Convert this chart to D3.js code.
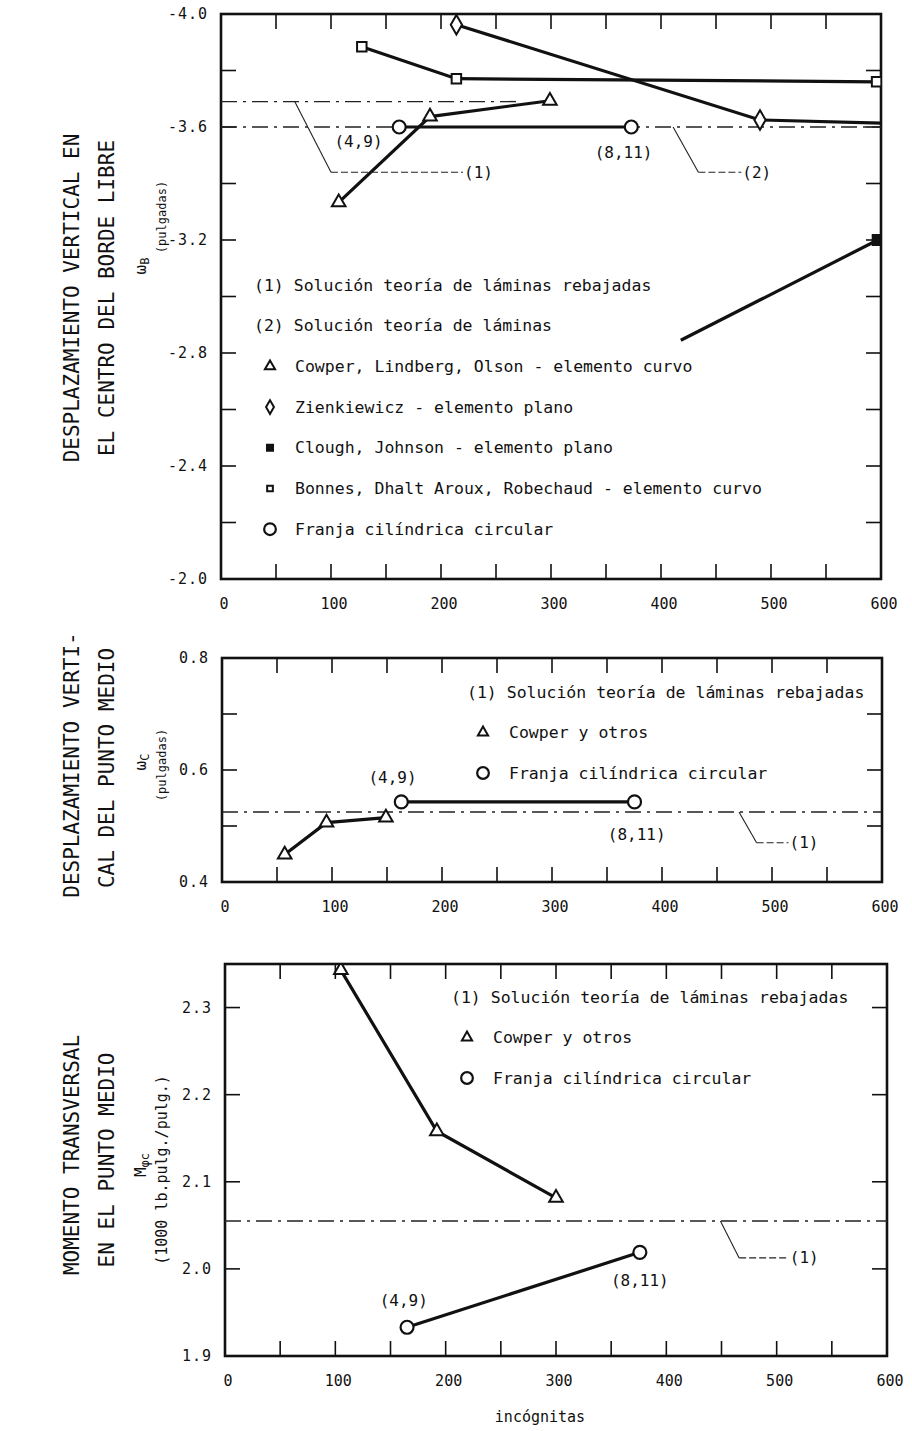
<!DOCTYPE html>
<html>
<head>
<meta charset="utf-8">
<script src="https://cdn.jsdelivr.net/npm/d3@7"></script>
<style>
  body { margin: 0; background: #fff; }
  text { font-family: "DejaVu Sans Mono", monospace; fill: #111; }
</style>
</head>
<body>
<script>
// x axis (incógnitas), shared by the three panels
const xLabels = [0, 100, 200, 300, 400, 500, 600];
const xMinor = [50, 100, 150, 200, 250, 300, 350, 400, 450, 500, 550];

// Panel 1: w_B, vertical displacement at centre of free edge
const wbLabels = [-4.0, -3.6, -3.2, -2.8, -2.4, -2.0];
const wbMinor = [-3.8, -3.6, -3.4, -3.2, -3.0, -2.8, -2.6, -2.4, -2.2];
const wbCowperX = [107, 190, 299];
const wbCowperY = [-3.333, -3.637, -3.693];
const wbZienkX = [214, 490, 620];
const wbZienkY = [-3.962, -3.625, -3.612];
const wbCloughX = [418, 597];
const wbCloughY = [-2.845, -3.20];
const wbBonnesX = [128, 214, 596];
const wbBonnesY = [-3.884, -3.771, -3.760];
const wbFranjaX = [162, 373];
const wbFranjaY = [-3.60, -3.60];
const wbRefY = [-3.69, -3.60];
const wbRefEnd = [270, 600];
const wbLegend = ["(1) Solución teoría de láminas rebajadas",
  "(2) Solución teoría de láminas",
  "Cowper, Lindberg, Olson - elemento curvo",
  "Zienkiewicz - elemento plano",
  "Clough, Johnson - elemento plano",
  "Bonnes, Dhalt Aroux, Robechaud - elemento curvo",
  "Franja cilíndrica circular"];

// Panel 2: w_C, vertical displacement at mid point
const wcLabels = [0.4, 0.6, 0.8];
const wcMinor = [0.5, 0.6, 0.7];
const wcCowperX = [57, 95, 149];
const wcCowperY = [0.449, 0.506, 0.515];
const wcFranjaX = [163, 375];
const wcFranjaY = [0.543, 0.543];
const wcRefY = 0.525;

// Panel 3: M_phi_c, transverse moment at mid point
const mLabels = [1.9, 2.0, 2.1, 2.2, 2.3];
const mCowperX = [105, 192, 300];
const mCowperY = [2.343, 2.158, 2.0815];
const mFranjaX = [165, 376];
const mFranjaY = [1.933, 2.019];
const mRefY = 2.055;

const shortLegend = ["(1) Solución teoría de láminas rebajadas",
  "Cowper y otros", "Franja cilíndrica circular"];

const svg = d3.select("body").append("svg")
  .attr("width", 912).attr("height", 1431);

const line = d3.line();

// Builds one framed panel with inside ticks on all four sides
function panel(id, box, yDomain, yLabels, yMinor) {
  const x = d3.scaleLinear().domain([0, 600]).range([box.left, box.right]);
  const y = d3.scaleLinear().domain(yDomain).range([box.bottom, box.top]);
  const g = svg.append("g");

  g.append("clipPath").attr("id", id)
    .append("rect")
    .attr("x", box.left).attr("y", box.top)
    .attr("width", box.right - box.left).attr("height", box.bottom - box.top);

  const tl = 15;
  const ticks = g.append("g").attr("stroke", "#111").attr("stroke-width", 1.6);
  xMinor.forEach(v => {
    ticks.append("line").attr("x1", x(v)).attr("x2", x(v))
      .attr("y1", box.bottom).attr("y2", box.bottom - tl);
    ticks.append("line").attr("x1", x(v)).attr("x2", x(v))
      .attr("y1", box.top).attr("y2", box.top + tl);
  });
  yMinor.forEach(v => {
    ticks.append("line").attr("x1", box.left).attr("x2", box.left + tl)
      .attr("y1", y(v)).attr("y2", y(v));
    ticks.append("line").attr("x1", box.right).attr("x2", box.right - tl)
      .attr("y1", y(v)).attr("y2", y(v));
  });

  g.append("rect")
    .attr("x", box.left).attr("y", box.top)
    .attr("width", box.right - box.left).attr("height", box.bottom - box.top)
    .attr("fill", "none").attr("stroke", "#111").attr("stroke-width", 2.6);

  g.selectAll(".xl").data(xLabels).enter().append("text")
    .attr("x", d => x(d) + 3).attr("y", box.bottom + 25)
    .attr("text-anchor", "middle").attr("dominant-baseline", "central")
    .attr("font-size", 15).text(d => d);

  g.selectAll(".yl").data(yLabels).enter().append("text")
    .attr("x", box.left - 13).attr("y", d => y(d))
    .attr("text-anchor", "end").attr("dominant-baseline", "central")
    .attr("font-size", 15).attr("letter-spacing", 1)
    .text(d => d.toFixed(1));

  const data = g.append("g").attr("clip-path", `url(#${id})`);
  return {x, y, g, data};
}

function series(p, xs, ys) {
  p.data.append("path")
    .attr("d", line(xs.map((v, i) => [p.x(v), p.y(ys[i])])))
    .attr("fill", "none").attr("stroke", "#111").attr("stroke-width", 3.2);
}

function refLine(p, yv, x0, x1) {
  p.data.append("line")
    .attr("x1", p.x(x0)).attr("x2", p.x(x1))
    .attr("y1", p.y(yv)).attr("y2", p.y(yv))
    .attr("stroke", "#222").attr("stroke-width", 1.4)
    .attr("stroke-dasharray", "16,6,3,6");
}

const sym = {
  tri: d3.symbol(d3.symbolTriangle, 80),
  dia: d3.symbol(d3.symbolDiamond, 110),
  sq: d3.symbol(d3.symbolSquare, 90),
  fsq: d3.symbol(d3.symbolSquare, 100)
};

function marker(parent, kind, px, py, scale = 1) {
  if (kind === "circ") {
    parent.append("circle").attr("cx", px).attr("cy", py).attr("r", 6.5 * scale)
      .attr("fill", "#fff").attr("stroke", "#111").attr("stroke-width", 2.2);
    return;
  }
  parent.append("path").attr("d", sym[kind]())
    .attr("transform", `translate(${px},${py}) scale(${scale})`)
    .attr("fill", kind === "fsq" ? "#111" : "#fff")
    .attr("stroke", "#111").attr("stroke-width", 2 / scale);
}

function markers(p, kind, xs, ys, skip = []) {
  xs.forEach((v, i) => {
    if (!skip.includes(i)) marker(p.data, kind, p.x(v), p.y(ys[i]));
  });
}

// leader: diagonal solid, then dashed horizontal ending at the label
function leader(p, xs, ys, label) {
  p.g.append("line")
    .attr("x1", p.x(xs[0])).attr("y1", p.y(ys[0]))
    .attr("x2", p.x(xs[1])).attr("y2", p.y(ys[1]))
    .attr("stroke", "#222").attr("stroke-width", 1.1);
  p.g.append("line")
    .attr("x1", p.x(xs[1])).attr("y1", p.y(ys[1]))
    .attr("x2", p.x(xs[2])).attr("y2", p.y(ys[2]))
    .attr("stroke", "#222").attr("stroke-width", 1.1)
    .attr("stroke-dasharray", "7,3");
  p.g.append("text")
    .attr("x", p.x(xs[2]) + 1).attr("y", p.y(ys[2]))
    .attr("dominant-baseline", "central").attr("font-size", 16)
    .text(label);
}

function note(p, xv, yv, label) {
  p.g.append("text")
    .attr("x", p.x(xv)).attr("y", p.y(yv))
    .attr("text-anchor", "middle").attr("dominant-baseline", "central")
    .attr("font-size", 16).text(label);
}

function titles(lines) {
  lines.forEach(t => {
    const tx = svg.append("text")
      .attr("transform", `translate(${t.x},${t.y}) rotate(-90)`)
      .attr("text-anchor", "middle").attr("dominant-baseline", "central")
      .attr("font-size", t.size);
    tx.append("tspan").text(t.text);
    if (t.sub) tx.append("tspan").attr("font-size", t.size * 0.75)
      .attr("dy", 5).text(t.sub);
  });
}

/* Panel 1 */
const p1 = panel("c1", {left: 221, right: 881, top: 14, bottom: 579},
  [-2.0, -4.0], wbLabels, wbMinor);
refLine(p1, wbRefY[0], 0, wbRefEnd[0]);
refLine(p1, wbRefY[1], 0, wbRefEnd[1]);
series(p1, wbBonnesX, wbBonnesY);
series(p1, wbZienkX, wbZienkY);
series(p1, wbCowperX, wbCowperY);
series(p1, wbFranjaX, wbFranjaY);
series(p1, wbCloughX, wbCloughY);
markers(p1, "sq", wbBonnesX, wbBonnesY);
markers(p1, "dia", wbZienkX, wbZienkY);
markers(p1, "tri", wbCowperX, wbCowperY);
markers(p1, "circ", wbFranjaX, wbFranjaY);
markers(p1, "fsq", wbCloughX, wbCloughY, [0]);
note(p1, 125, -3.547, "(4,9)");
note(p1, 366, -3.51, "(8,11)");
leader(p1, [67, 100, 220], [wbRefY[0], -3.44, -3.44], "(1)");
leader(p1, [411, 434, 473], [wbRefY[1], -3.44, -3.44], "(2)");

const leg1 = svg.append("g").attr("transform", "translate(254,285)");
const leg1Kinds = [null, null, "tri", "dia", "fsq", "sq", "circ"];
const leg1Scale = [1, 1, 0.75, 0.7, 0.6, 0.6, 0.9];
wbLegend.forEach((t, i) => {
  const yy = i * 40.7;
  const k = leg1Kinds[i];
  if (k) marker(leg1, k, 16, yy, leg1Scale[i]);
  leg1.append("text").attr("x", k ? 41 : 0).attr("y", yy)
    .attr("dominant-baseline", "central").attr("font-size", 16.5).text(t);
});

titles([
  {x: 72, y: 298, size: 21, text: "DESPLAZAMIENTO VERTICAL EN"},
  {x: 107, y: 298, size: 21, text: "EL CENTRO DEL BORDE LIBRE"},
  {x: 140, y: 266, size: 16, text: "ω", sub: "B"},
  {x: 162, y: 217, size: 12, text: "(pulgadas)"}
]);

/* Panel 2 */
const p2 = panel("c2", {left: 222, right: 882, top: 658, bottom: 882},
  [0.4, 0.8], wcLabels, wcMinor);
refLine(p2, wcRefY, 0, 600);
series(p2, wcCowperX, wcCowperY);
series(p2, wcFranjaX, wcFranjaY);
markers(p2, "tri", wcCowperX, wcCowperY);
markers(p2, "circ", wcFranjaX, wcFranjaY);
note(p2, 155, 0.5875, "(4,9)");
note(p2, 377, 0.484, "(8,11)");
leader(p2, [470, 486, 515], [wcRefY, 0.47, 0.47], "(1)");

function shortLeg(px, py) {
  const lg = svg.append("g").attr("transform", `translate(${px},${py})`);
  const kinds = [null, "tri", "circ"];
  shortLegend.forEach((t, i) => {
    const yy = i * 40.5;
    if (kinds[i]) marker(lg, kinds[i], 16, yy, kinds[i] === "circ" ? 0.9 : 0.75);
    lg.append("text").attr("x", kinds[i] ? 42 : 0).attr("y", yy)
      .attr("dominant-baseline", "central").attr("font-size", 16.5).text(t);
  });
}
shortLeg(467, 692);

titles([
  {x: 72, y: 765, size: 21, text: "DESPLAZAMIENTO VERTI-"},
  {x: 107, y: 768, size: 21, text: "CAL DEL PUNTO MEDIO"},
  {x: 140, y: 762, size: 16, text: "ω", sub: "C"},
  {x: 162, y: 765, size: 12, text: "(pulgadas)"}
]);

/* Panel 3 */
const p3 = panel("c3", {left: 225, right: 887, top: 964, bottom: 1356},
  [1.9, 2.35], mLabels, [2.0, 2.1, 2.2, 2.3]);
refLine(p3, mRefY, 0, 600);
series(p3, mCowperX, mCowperY);
series(p3, mFranjaX, mFranjaY);
markers(p3, "tri", mCowperX, mCowperY);
markers(p3, "circ", mFranjaX, mFranjaY);
note(p3, 162, 1.964, "(4,9)");
note(p3, 376, 1.987, "(8,11)");
leader(p3, [449, 466, 511], [mRefY, 2.0126, 2.0126], "(1)");
shortLeg(451, 997);

titles([
  {x: 72, y: 1155, size: 21, text: "MOMENTO TRANSVERSAL"},
  {x: 107, y: 1160, size: 21, text: "EN EL PUNTO MEDIO"},
  {x: 140, y: 1165, size: 16, text: "M", sub: "φc"},
  {x: 162, y: 1170, size: 15, text: "(1000 lb.pulg./pulg.)"}
]);

svg.append("text").attr("x", 540).attr("y", 1417)
  .attr("text-anchor", "middle").attr("dominant-baseline", "central")
  .attr("font-size", 15).text("incógnitas");
</script>
</body>
</html>
